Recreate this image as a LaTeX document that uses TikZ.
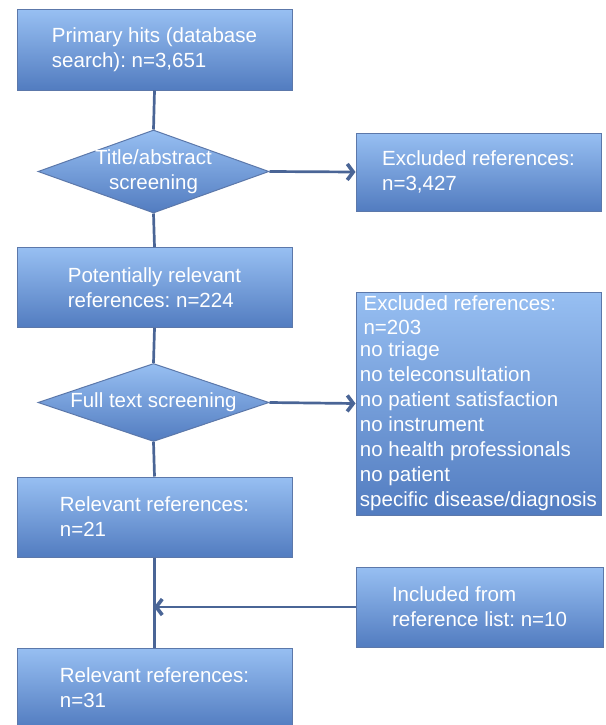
\documentclass[tikz,border=0pt]{standalone}
\usepackage{fontspec}
\setmainfont{Liberation Sans}
\usetikzlibrary{shapes.geometric,arrows.meta}
\definecolor{topc}{RGB}{151,191,242}
\definecolor{botc}{RGB}{82,124,192}
\definecolor{edgec}{RGB}{92,120,170}
\definecolor{linec}{RGB}{74,101,150}
\frenchspacing
\begin{document}
\begin{tikzpicture}[x=1pt,y=-1pt,
  txt/.style={text=white, font=\fontsize{20.5}{25}\selectfont},
  box/.style={txt, draw=edgec, line width=1pt, top color=topc, bottom color=botc,
    minimum width=275pt, minimum height=80pt, align=left, inner sep=0pt},
  diam/.style={diamond, draw=edgec, line width=1pt, top color=topc, bottom color=botc,
    minimum width=231pt, inner sep=0pt},
  lbl/.style={txt, align=center, inner sep=0pt},
  conn/.style={draw=linec, line width=2.7pt},
  arr/.style={conn, -{Straight Barb[length=6pt,width=16pt,line width=3.6pt]}}
]
\useasboundingbox (0,0) rectangle (605,725);
\node[box] (b1) at (154.5,50) {Primary hits (database\\search): n=3,651};
\node[diam, minimum height=83pt, label={[lbl]center:{Title/abstract\\screening}}] (d1) at (153.5,171.5) {};
\node[box, minimum width=245pt, minimum height=78pt] (e1) at (478.5,172) {Excluded references:\\n=3,427};
\node[box] (b2) at (154.5,287.5) {Potentially relevant\\references: n=224};
\node[diam, minimum height=78pt, label={[lbl]center:{Full text screening}}] (d2) at (153.5,402.5) {};
\node[box, minimum width=245pt, minimum height=223pt] (e2) at (478.5,403.5)
  {\hspace*{3.6pt}Excluded references:\\[-1.5pt]\hspace*{3.6pt}n=203\\[-2.7pt]no triage\\no teleconsultation\\no patient satisfaction\\no instrument\\no health professionals\\no patient\\specific disease/diagnosis};
\node[box] (b3) at (154.5,517) {Relevant references:\\n=21};
\node[box, minimum width=247pt] (inc) at (479.5,607) {Included from\\reference list: n=10};
\node[box] (b4) at (154.5,688) {Relevant references:\\n=31};
\coordinate (m) at (154,607);
\draw[conn] (b1.south) -- (d1.north);
\draw[conn] (d1.south) -- (b2.north);
\draw[conn] (b2.south) -- (d2.north);
\draw[conn] (d2.south) -- (b3.north);
\draw[conn] (b3.south) -- (b4.north);
\draw[arr] (d1.east) -- (e1.west);
\draw[arr] (d2.east) -- (e2.west);
\draw[arr] (inc.west) -- (m);
\end{tikzpicture}
\end{document}
